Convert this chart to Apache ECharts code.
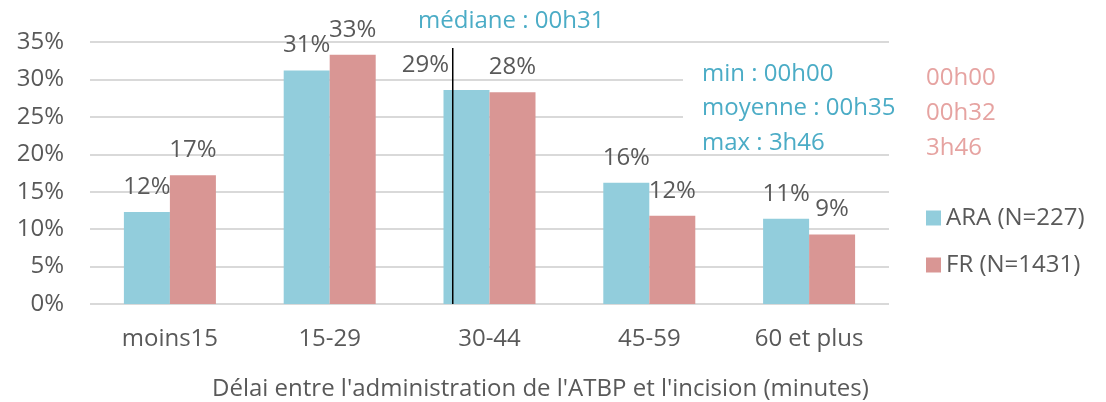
<!DOCTYPE html>
<html>
<head>
<meta charset="utf-8">
<script src="https://cdn.jsdelivr.net/npm/echarts@6/dist/echarts.min.js"></script>
<style>html,body{margin:0;padding:0;background:#fff}#c{width:1106px;height:402px}</style>
</head>
<body>
<div id="c"></div>
<script>
const categories = ['moins15', '15-29', '30-44', '45-59', '60 et plus'];
const araValues = [12.3, 31.2, 28.6, 16.2, 11.4];
const frValues = [17.2, 33.3, 28.3, 11.8, 9.3];
const araLabels = ['12%', '31%', '29%', '16%', '11%'];
const frLabels = ['17%', '33%', '28%', '12%', '9%'];
const yTicks = [0, 5, 10, 15, 20, 25, 30, 35];
const seriesNames = ['ARA (N=227)', 'FR (N=1431)'];
const medianPosition = 2.27;   // on a 0..5 category scale
const medianTop = 34.2;
const medianText = 'médiane : 00h31';
const araStats = ['min : 00h00', 'moyenne : 00h35', 'max : 3h46'];
const frStats = ['00h00', '00h32', '3h46'];
const axisTitle = "Délai entre l'administration de l'ATBP et l'incision (minutes)";

const FONT = 'Open Sans';
const GRAY = '#595959';
const BLUE_TXT = '#4BACC6';
const PINK_TXT = '#E6A3A1';
const FS = 24;

const chart = echarts.init(document.getElementById('c'), null, {renderer: 'canvas'});

function labelFor(labels) {
  return {
    show: true, position: 'top', distance: 13,
    color: GRAY, fontFamily: FONT, fontSize: FS,
    formatter: p => labels[p.dataIndex]
  };
}

const araData = araValues.map((v, i) => {
  const d = {value: v};
  if (i === 2) d.label = {offset: [-41, 0]};
  return d;
});

function txt(t, x, y, fill) {
  return {type: 'text', x: x, y: y, z: 100,
    style: {text: t, fill: fill, font: FS + 'px ' + FONT, verticalAlign: 'middle', align: 'left'}};
}

const statsGraphics = [];
araStats.forEach((t, i) => statsGraphics.push(txt(t, 702, 74 + i * 34.5, BLUE_TXT)));
frStats.forEach((t, i) => statsGraphics.push(txt(t, 926, 78 + i * 35, PINK_TXT)));

chart.setOption({
  animation: false,
  backgroundColor: '#fff',
  grid: {left: 90, right: 217, top: 42, bottom: 98},
  legend: {
    data: seriesNames,
    orient: 'vertical', left: 921, top: 200,
    icon: 'rect', itemWidth: 15, itemHeight: 15, itemGap: 21,
    textStyle: {color: GRAY, fontFamily: FONT, fontSize: FS, lineHeight: 26}
  },
  xAxis: [{
    type: 'category', data: categories,
    axisLine: {show: false}, axisTick: {show: false},
    axisLabel: {color: GRAY, fontFamily: FONT, fontSize: FS, margin: 23}
  }, {
    type: 'value', min: 0, max: 5, show: false
  }],
  yAxis: {
    type: 'value', min: yTicks[0], max: yTicks[yTicks.length - 1], interval: 5,
    axisLine: {show: false}, axisTick: {show: false},
    axisLabel: {color: GRAY, fontFamily: FONT, fontSize: FS, margin: 26, formatter: '{value}%'},
    splitLine: {lineStyle: {color: '#D9D9D9', width: 2}}
  },
  graphic: [
    {type: 'rect', shape: {x: 683, y: 55, width: 206, height: 96}, style: {fill: '#fff'}, z: 50},
    txt(medianText, 418, 21, BLUE_TXT),
    txt(axisTitle, 212, 389, GRAY)
  ].concat(statsGraphics),
  series: [{
    name: seriesNames[0], type: 'bar', data: araData, barWidth: 46, barGap: '0%',
    itemStyle: {color: '#92CDDC'}, label: labelFor(araLabels)
  }, {
    name: seriesNames[1], type: 'bar', data: frValues, barWidth: 46, barGap: '0%',
    itemStyle: {color: '#D99694'}, label: labelFor(frLabels)
  }, {
    name: 'median', type: 'line', xAxisIndex: 1, silent: true, showSymbol: false, symbol: 'none',
    data: [[medianPosition, 0], [medianPosition, medianTop]],
    lineStyle: {color: '#000', width: 1.5}, z: 10
  }]
});
</script>
</body>
</html>
